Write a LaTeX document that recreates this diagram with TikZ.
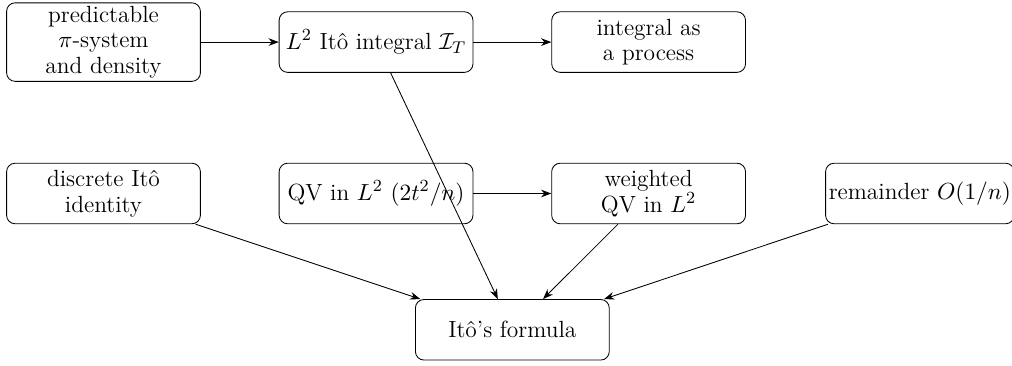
\documentclass[tikz,border=0pt]{standalone}
\usepackage{amsmath,amssymb}
\usepackage{tikz}
\usetikzlibrary{arrows.meta}

\begin{document}
\begin{tikzpicture}[box/.style={rectangle, draw, rounded corners, align=center, inner sep=1.5pt, font=\fontsize{11}{12}\selectfont, minimum width=3.2cm, minimum height=1cm}]
%\draw [help lines] grid (15,-5);
\useasboundingbox (-1.709,0.695) rectangle (15.0,-5.332);
\node[box] (A) at (0,0) {predictable\\$\pi$-system\\and density};
\node[box] (B) at (4.5,0) {$L^2$ It\^o integral $\mathcal{I}_T$};
\node[box] (C) at (9,0) {integral as\\a process};
\node[box] (D) at (0,-2.5) {discrete It\^o\\identity};
\node[box] (E) at (4.5,-2.5) {QV in $L^2$ $(2t^2/n)$};
\node[box] (F) at (9,-2.5) {weighted\\QV in $L^2$};
\node[box, minimum width=0pt, anchor=west] (G) at (11.915,-2.5) {remainder $O(1/n)$};
\node[box] (H) at (6.75,-4.75) {It\^o's formula};

\draw[>=Stealth,->] (A) -- (B);
\draw[>=Stealth,->] (B) -- (C);
\draw[>=Stealth,->] (E) -- (F);
\draw[>=Stealth,->] (B) -- (H);
\draw[>=Stealth,->] (D) -- (H);
\draw[>=Stealth,->] (F) -- (H);
\draw[>=Stealth,->] (G) -- (H);

\end{tikzpicture}
\end{document}
